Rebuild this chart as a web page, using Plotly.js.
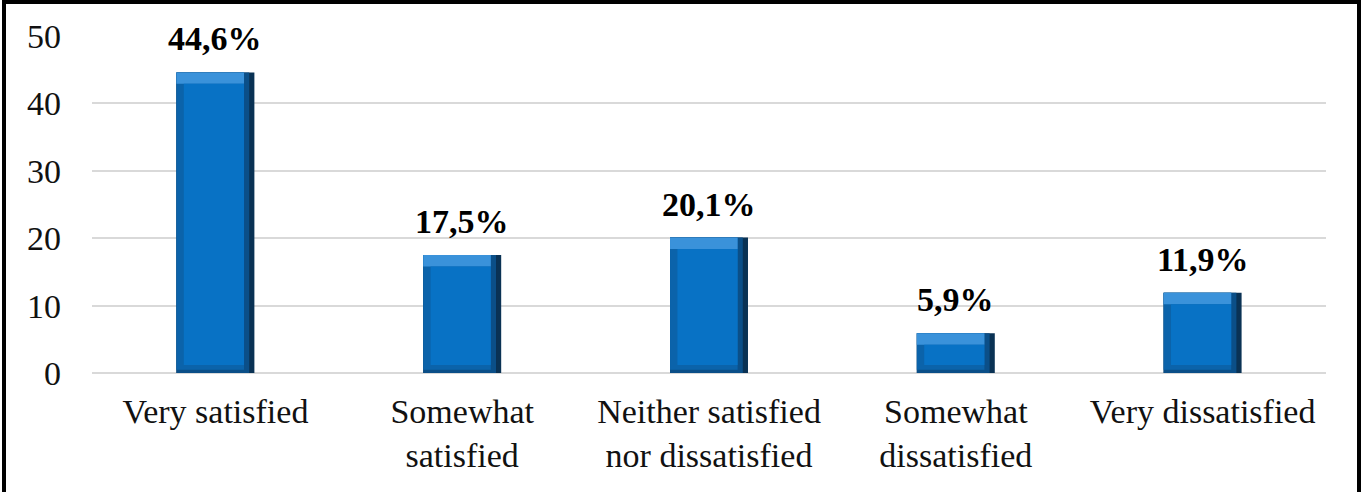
<!DOCTYPE html>
<html>
<head>
<meta charset="utf-8">
<script src="https://cdn.plot.ly/plotly-3.0.1.min.js"></script>
<style>
  html, body { margin: 0; padding: 0; background: #fff; }
  #frame {
    position: absolute; left: 2px; top: 0; width: 1359px; height: 492px;
    box-sizing: border-box; border: 4px solid #000; border-bottom: none;
  }
  #chart { width: 1351px; height: 488px; }
</style>
</head>
<body>
<div id="frame"><div id="chart"></div></div>
<script>
// Satisfaction survey: share of respondents per answer (%)
const categories = [
  'Very satisfied',
  'Somewhat<br>satisfied',
  'Neither satisfied<br>nor dissatisfied',
  'Somewhat<br>dissatisfied',
  'Very dissatisfied'
];
const shares = [44.6, 17.5, 20.1, 5.9, 11.9];
const yTicks = [0, 10, 20, 30, 40, 50];

const SERIF = 'Liberation Serif';

// Bevelled bar look built from stacked rectangles of the same data
const W = 0.316;          // bar width (category units)
const edgeR = 0.042;      // dark right edge
const edgeL = 0.03;       // left edge
const topB = 1.7;         // light top bevel (value units)
const botB = 1.2;         // dark bottom edge (value units)

const common = { x: categories, type: 'bar', hoverinfo: 'skip', showlegend: false };

const outer = Object.assign({}, common, {
  y: shares, width: W, marker: { color: '#0a3254' }
});
const rightMid = Object.assign({}, common, {
  y: shares, width: W - edgeR * 0.5, offset: -W / 2,
  marker: { color: '#0b4f88' }
});
const body = Object.assign({}, common, {
  y: shares.map(v => v - botB * 0.4), base: shares.map(() => botB * 0.4),
  width: W - edgeR, offset: -W / 2, marker: { color: '#0b63aa' }
});
const topBevel = Object.assign({}, common, {
  y: shares.map(() => topB), base: shares.map(v => v - topB),
  width: W - edgeR, offset: -W / 2, marker: { color: '#3a92da' }
});
const face = Object.assign({}, common, {
  y: shares.map(v => v - topB - botB), base: shares.map(() => botB),
  width: W - edgeR - edgeL, offset: -W / 2 + edgeL, marker: { color: '#0872c5' }
});

const labels = shares.map((v, i) => ({
  x: categories[i], y: v, xref: 'x', yref: 'y',
  text: '<b>' + v.toFixed(1).replace('.', ',') + '%</b>',
  showarrow: false, yanchor: 'bottom', yshift: 13,
  font: { family: SERIF, size: 34, color: '#000' }
}));

const layout = {
  width: 1351, height: 488,
  margin: { l: 86, r: 31, t: 32, b: 119 },
  paper_bgcolor: '#fff', plot_bgcolor: '#fff',
  barmode: 'overlay',
  showlegend: false,
  font: { family: SERIF, size: 34, color: '#111' },
  xaxis: {
    type: 'category', showgrid: false, zeroline: false, showline: false,
    ticks: '', ticklabelstandoff: 15,
    tickfont: { family: SERIF, size: 34, color: '#111' }
  },
  yaxis: {
    range: [0, 50], tickvals: yTicks, ticktext: yTicks.map(String),
    showgrid: true, gridcolor: '#d9d9d9', gridwidth: 2,
    zeroline: true, zerolinecolor: '#d9d9d9', zerolinewidth: 2,
    showline: false, ticks: '', ticklabelstandoff: 30,
    tickfont: { family: SERIF, size: 34, color: '#111' }
  },
  annotations: labels
};

Plotly.newPlot('chart', [outer, rightMid, body, topBevel, face], layout,
  { displayModeBar: false, staticPlot: true });
</script>
</body>
</html>
